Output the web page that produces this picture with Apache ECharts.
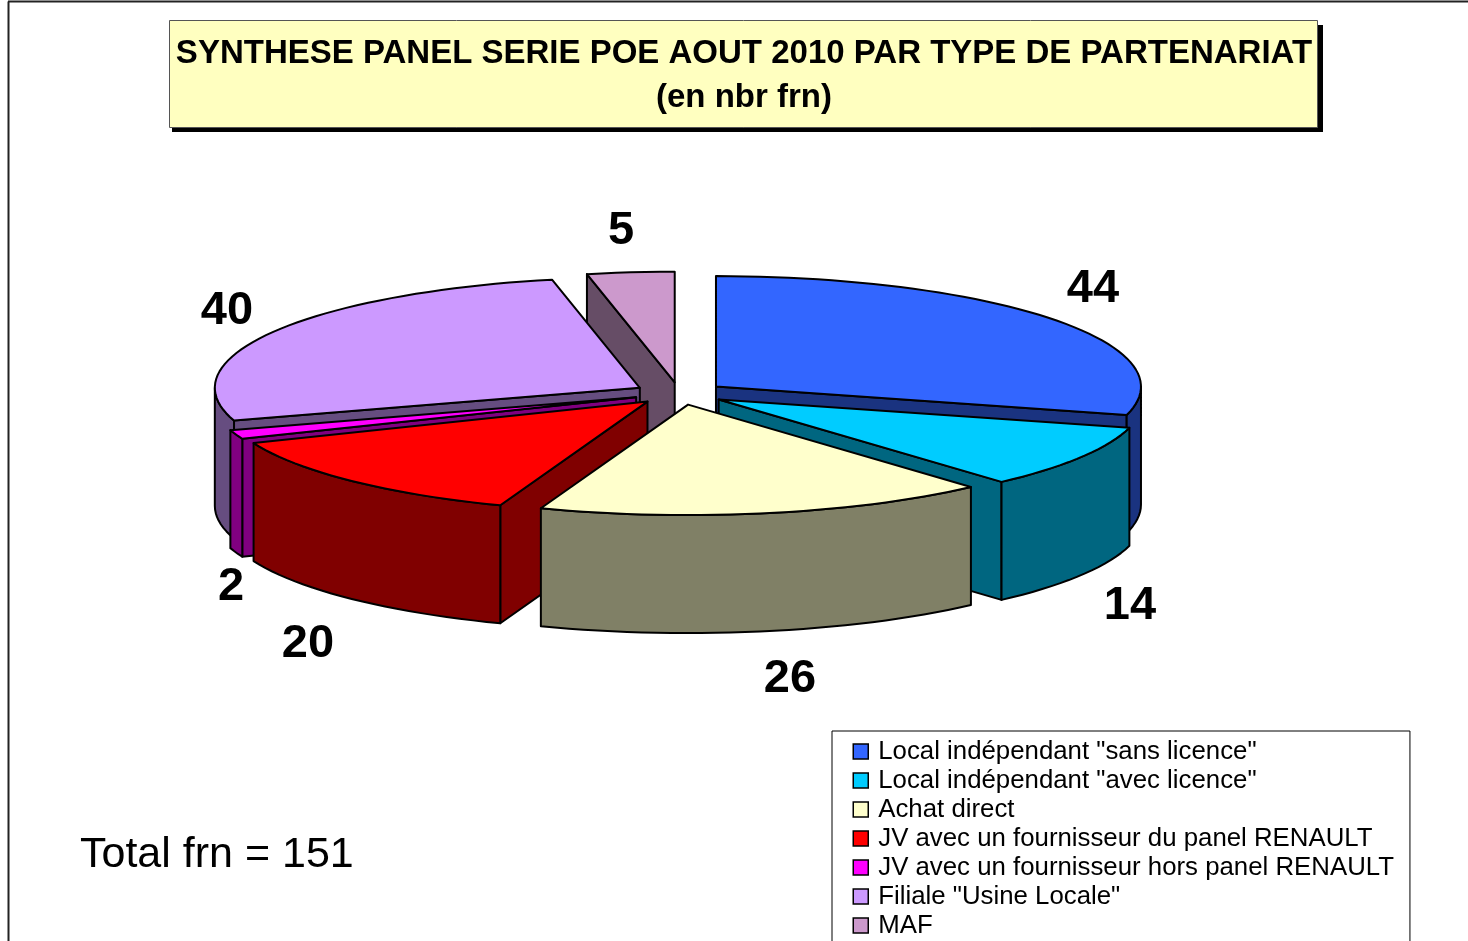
<!DOCTYPE html>
<html>
<head>
<meta charset="utf-8">
<style>
html, body { margin: 0; padding: 0; background: #fff; overflow: hidden; }
#main { width: 1468px; height: 941px; }
</style>
<script src="https://cdn.jsdelivr.net/npm/echarts@6/dist/echarts.min.js"></script>
</head>
<body>
<div id="main"></div>
<script>
const categories = [
  'Local indépendant "sans licence"',
  'Local indépendant "avec licence"',
  'Achat direct',
  'JV avec un fournisseur du panel RENAULT',
  'JV avec un fournisseur hors panel RENAULT',
  'Filiale "Usine Locale"',
  'MAF'
];
const values = [44, 14, 26, 20, 2, 40, 5];
const topColors = ['#3366FF', '#00CCFF', '#FFFFCC', '#FF0000', '#FF00FF', '#CC99FF', '#CC99CC'];
const wallColors = ['#1A3380', '#006680', '#808066', '#800000', '#800080', '#664D80', '#664D66'];
// back to front, painter style
const drawOrder = [6, 0, 5, 4, 3, 1, 2];
// where the value labels sit (centre of text)
const labelSpots = [[1093, 289], [1130, 606], [790, 679], [308, 644], [231, 587], [227, 311], [621, 231]];

const FONT = '"Liberation Sans", Arial, sans-serif';
const pie = { cx: 679.5, cy: 393.5, rx: 425, ry: 110.5, depth: 118, ex: 46, ey: 11.3 };
const total = values.reduce((a, b) => a + b, 0);

// start and end angle of a slice, degrees clockwise from 12 o'clock
function sliceAngles(idx) {
  let sum = 0;
  for (let i = 0; i < idx; i++) sum += values[i];
  return [sum / total * 360, (sum + values[idx]) / total * 360];
}

function rim(ox, oy, deg, drop) {
  const r = deg * Math.PI / 180;
  return [ox + pie.rx * Math.sin(r), oy - pie.ry * Math.cos(r) + drop];
}

function poly(points, fill) {
  return {
    type: 'polygon',
    shape: { points: points },
    style: { fill: fill, stroke: '#000', lineWidth: 2, lineJoin: 'round' }
  };
}

function arc(ox, oy, from, to, drop) {
  const pts = [];
  const steps = Math.max(2, Math.ceil((to - from) / 2));
  for (let i = 0; i <= steps; i++) {
    pts.push(rim(ox, oy, from + (to - from) * i / steps, drop));
  }
  return pts;
}

function renderSlice(idx) {
  return function (params, api) {
    const val = api.value(0);
    const [a0, a1] = sliceAngles(idx);
    const mid = (a0 + a1) / 2 * Math.PI / 180;
    const ox = pie.cx + pie.ex * Math.sin(mid);
    const oy = pie.cy - pie.ey * Math.cos(mid);
    const d = pie.depth;
    const children = [];

    // flat cut faces, only the ones turned to the viewer
    [[a0, a0 > 180], [a1, a1 < 180]].forEach(function (w) {
      if (!w[1]) return;
      const p = rim(ox, oy, w[0], 0);
      children.push(poly([[ox, oy], p, [p[0], p[1] + d], [ox, oy + d]], wallColors[idx]));
    });

    // curved outer face
    const from = Math.max(a0, 90);
    const to = Math.min(a1, 270);
    if (to > from) {
      const pts = arc(ox, oy, from, to, 0).concat(arc(ox, oy, from, to, d).reverse());
      children.push(poly(pts, wallColors[idx]));
    }

    // top
    children.push(poly([[ox, oy]].concat(arc(ox, oy, a0, a1, 0)), topColors[idx]));

    children.push({
      type: 'text',
      style: {
        text: String(val),
        x: labelSpots[idx][0],
        y: labelSpots[idx][1],
        align: 'center',
        verticalAlign: 'middle',
        fill: '#000',
        font: 'bold 47px ' + FONT
      }
    });
    return { type: 'group', children: children };
  };
}

const chart = echarts.init(document.getElementById('main'));
chart.setOption({
  animation: false,
  backgroundColor: '#fff',
  title: {
    text: 'SYNTHESE PANEL SERIE POE AOUT 2010 PAR TYPE DE PARTENARIAT\n(en nbr frn)',
    left: 744,
    top: 32,
    textAlign: 'center',
    padding: 0,
    z: 10,
    textStyle: { fontFamily: FONT, fontSize: 33, fontWeight: 'bold', color: '#000', lineHeight: 44 }
  },
  legend: {
    orient: 'vertical',
    left: 832,
    top: 731,
    height: 260,
    padding: [6, 16, 30, 20.5],
    itemGap: 0,
    itemWidth: 25,
    itemHeight: 15,
    itemStyle: { borderColor: '#000', borderWidth: 1.5 },
    borderColor: '#000',
    borderWidth: 1,
    backgroundColor: '#fff',
    icon: 'path://M0 0H10V10H0Z',
    data: categories,
    selectedMode: false,
    textStyle: { fontFamily: FONT, fontSize: 25.8, color: '#000', lineHeight: 29 }
  },
  graphic: [
    { type: 'line', z: 1, shape: { x1: 8.5, y1: 1.5, x2: 8.5, y2: 941 }, style: { stroke: '#222', lineWidth: 2 } },
    { type: 'line', z: 1, shape: { x1: 8, y1: 1.5, x2: 1468, y2: 1.5 }, style: { stroke: '#222', lineWidth: 2 } },
    { type: 'rect', z: 2, shape: { x: 172, y: 25, width: 1151, height: 107 }, style: { fill: '#000' } },
    { type: 'rect', z: 3, shape: { x: 169.5, y: 20.5, width: 1148, height: 107 }, style: { fill: '#FFFFC0', stroke: '#555', lineWidth: 1 } },
    {
      type: 'text', z: 4, left: 80, top: 834,
      style: { text: 'Total frn = 151', fill: '#000', font: '43px ' + FONT }
    }
  ],
  series: drawOrder.map(function (idx) {
    return {
      type: 'custom',
      name: categories[idx],
      coordinateSystem: 'none',
      clip: false,
      itemStyle: { color: topColors[idx] },
      renderItem: renderSlice(idx),
      data: [[values[idx]]]
    };
  })
});
</script>
</body>
</html>
